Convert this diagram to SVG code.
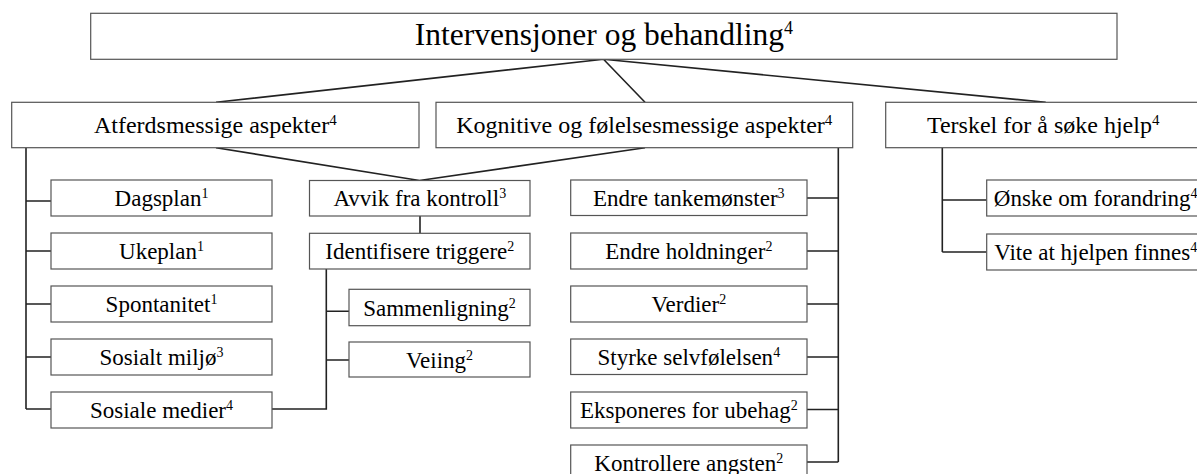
<svg xmlns="http://www.w3.org/2000/svg" width="1197" height="474" viewBox="0 0 1197 474">
<style>
.box{fill:#fff;stroke:#555;stroke-width:1.2}
text{font-family:'Liberation Serif','Times New Roman','DejaVu Serif',serif;fill:#000;text-anchor:middle}
.t1{font-size:31.5px}
.t2{font-size:24px}
.t3{font-size:23px}
.s1{font-size:18px}
.s2{font-size:15px}
.s3{font-size:14px}
.c{fill:none;stroke:#222;stroke-width:1.6}
</style>
<rect width="1197" height="474" fill="#fff"/>
<g id="connectors">
<path class="c" d="M603.5 59.3 L216 102.3 M603.5 59.3 L645 102.3 M603.5 59.3 L1045.7 102.3"/>
<path class="c" d="M216 147.7 L419.5 180.5 L645 147.7"/>
<path class="c" d="M420 216 V233.3"/>
<path class="c" d="M26 147.7 V409 M26 201 H51 M26 251 H51 M26 304 H51 M26 357 H51 M26 409 H51"/>
<path class="c" d="M272 409 H326.3 V269 M326.3 311.3 H349 M326.3 360 H349"/>
<path class="c" d="M838.3 147.7 V462 M807 198 H838.3 M807 251 H838.3 M807 304 H838.3 M807 357 H838.3 M807 409.5 H838.3 M807 462 H838.3"/>
<path class="c" d="M942.3 147.7 V252 M942.3 200 H986.7 M942.3 252 H986.7"/>
</g>
<g id="n-root"><rect class="box" x="90.7" y="13.3" width="1026.3" height="46"/><text class="t1" x="603.9" y="45">Intervensjoner og behandling<tspan class="s1" dy="-11">4</tspan></text></g>
<g id="n-atferd"><rect class="box" x="11.7" y="102.3" width="407.3" height="45.4"/><text class="t2" x="215.3" y="133">Atferdsmessige aspekter<tspan class="s2" dy="-8">4</tspan></text></g>
<g id="n-kognitive"><rect class="box" x="436" y="102.3" width="416.7" height="45.4"/><text class="t2" x="644.3" y="133">Kognitive og følelsesmessige aspekter<tspan class="s2" dy="-8">4</tspan></text></g>
<g id="n-terskel"><rect class="box" x="885.7" y="102.3" width="315" height="45.4"/><text class="t2" x="1043.2" y="133">Terskel for å søke hjelp<tspan class="s2" dy="-8">4</tspan></text></g>

<g id="n-dagsplan"><rect class="box" x="51" y="180" width="221" height="36"/><text class="t3" x="161.5" y="206">Dagsplan<tspan class="s3" dy="-8">1</tspan></text></g>
<g id="n-ukeplan"><rect class="box" x="51" y="233" width="221" height="36"/><text class="t3" x="161.5" y="259">Ukeplan<tspan class="s3" dy="-8">1</tspan></text></g>
<g id="n-spontanitet"><rect class="box" x="51" y="286" width="221" height="36"/><text class="t3" x="161.5" y="312">Spontanitet<tspan class="s3" dy="-8">1</tspan></text></g>
<g id="n-sosialt"><rect class="box" x="51" y="339" width="221" height="36"/><text class="t3" x="161.5" y="365">Sosialt miljø<tspan class="s3" dy="-8">3</tspan></text></g>
<g id="n-medier"><rect class="box" x="51" y="392" width="221" height="36"/><text class="t3" x="161.5" y="418">Sosiale medier<tspan class="s3" dy="-8">4</tspan></text></g>

<g id="n-avvik"><rect class="box" x="309.5" y="180.5" width="220.5" height="35.5"/><text class="t3" x="419.8" y="206">Avvik fra kontroll<tspan class="s3" dy="-8">3</tspan></text></g>
<g id="n-identifisere"><rect class="box" x="309.5" y="233.3" width="220.5" height="35.7"/><text class="t3" x="419.8" y="259">Identifisere triggere<tspan class="s3" dy="-8">2</tspan></text></g>
<g id="n-sammenligning"><rect class="box" x="349" y="289.3" width="181" height="36.4"/><text class="t3" x="439.5" y="315.5">Sammenligning<tspan class="s3" dy="-8">2</tspan></text></g>
<g id="n-veiing"><rect class="box" x="349" y="342" width="181" height="35"/><text class="t3" x="439.5" y="367.5">Veiing<tspan class="s3" dy="-8">2</tspan></text></g>

<g id="n-tankemonster"><rect class="box" x="570.7" y="180" width="236.3" height="35.5"/><text class="t3" x="688.8" y="206">Endre tankemønster<tspan class="s3" dy="-8">3</tspan></text></g>
<g id="n-holdninger"><rect class="box" x="570.7" y="233" width="236.3" height="36"/><text class="t3" x="688.8" y="259">Endre holdninger<tspan class="s3" dy="-8">2</tspan></text></g>
<g id="n-verdier"><rect class="box" x="570.7" y="286" width="236.3" height="36"/><text class="t3" x="688.8" y="312">Verdier<tspan class="s3" dy="-8">2</tspan></text></g>
<g id="n-styrke"><rect class="box" x="570.7" y="339" width="236.3" height="35.5"/><text class="t3" x="688.8" y="365">Styrke selvfølelsen<tspan class="s3" dy="-8">4</tspan></text></g>
<g id="n-eksponeres"><rect class="box" x="570.7" y="392" width="236.3" height="36"/><text class="t3" x="688.8" y="418">Eksponeres for ubehag<tspan class="s3" dy="-8">2</tspan></text></g>
<g id="n-kontrollere"><rect class="box" x="570.7" y="445" width="236.3" height="36"/><text class="t3" x="688.8" y="471">Kontrollere angsten<tspan class="s3" dy="-8">2</tspan></text></g>

<g id="n-onske"><rect class="box" x="986.7" y="180" width="218" height="36"/><text class="t3" x="1095.7" y="206">Ønske om forandring<tspan class="s3" dy="-8">4</tspan></text></g>
<g id="n-vite"><rect class="box" x="986.7" y="234" width="218" height="36"/><text class="t3" x="1095.7" y="260">Vite at hjelpen finnes<tspan class="s3" dy="-8">4</tspan></text></g>
</svg>
